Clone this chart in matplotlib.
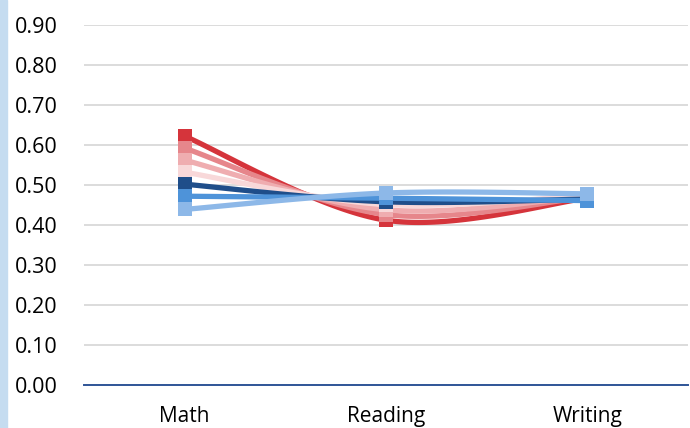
import numpy as np
import matplotlib.pyplot as plt
from matplotlib.patches import Rectangle

categories = ["Math", "Reading", "Writing"]
series_red = [0.622, 0.412, 0.467]
series_salmon = [0.592, 0.426, 0.470]
series_pink = [0.562, 0.438, 0.472]
series_lightpink = [0.532, 0.451, 0.474]
series_darkblue = [0.502, 0.458, 0.465]
series_midblue = [0.472, 0.467, 0.461]
series_lightblue = [0.439, 0.480, 0.478]
y_ticks = [0.0, 0.1, 0.2, 0.3, 0.4, 0.5, 0.6, 0.7, 0.8, 0.9]

series = [
    (series_red, "#D5343B"),
    (series_salmon, "#E6868B"),
    (series_pink, "#EFADB0"),
    (series_lightpink, "#F8D8D9"),
    (series_darkblue, "#1F4E8A"),
    (series_midblue, "#4E93D9"),
    (series_lightblue, "#8DB8E8"),
]


def smooth(xs, ys, n=60):
    # Catmull-Rom style bezier smoothing, like spreadsheet "smooth line"
    xs = np.asarray(xs, float)
    ys = np.asarray(ys, float)
    px = np.concatenate([[xs[0]], xs, [xs[-1]]])
    py = np.concatenate([[ys[0]], ys, [ys[-1]]])
    out_x, out_y = [], []
    t = np.linspace(0, 1, n)
    for i in range(1, len(px) - 2):
        p0 = np.array([px[i], py[i]])
        p3 = np.array([px[i + 1], py[i + 1]])
        c1 = p0 + (np.array([px[i + 1], py[i + 1]]) - np.array([px[i - 1], py[i - 1]])) / 6
        c2 = p3 - (np.array([px[i + 2], py[i + 2]]) - np.array([px[i], py[i]])) / 6
        b = ((1 - t) ** 3)[:, None] * p0 + (3 * (1 - t) ** 2 * t)[:, None] * c1 \
            + (3 * (1 - t) * t ** 2)[:, None] * c2 + (t ** 3)[:, None] * p3
        out_x.extend(b[:, 0])
        out_y.extend(b[:, 1])
    return out_x, out_y


plt.rcParams['font.family'] = ['Open Sans', 'DejaVu Sans']

fig = plt.figure(figsize=(6.9, 4.28), dpi=100)
ax = fig.add_axes([84 / 690, 43 / 428, 604 / 690, 360 / 428])

fig.patches.append(Rectangle((0, 0), 7 / 690, 1, transform=fig.transFigure,
                             color="#C5DCF0", zorder=0))

x = np.arange(len(categories))
for i, (vals, col) in enumerate(series):
    sx, sy = smooth(x, vals)
    ax.plot(sx, sy, color=col, lw=3.8, solid_capstyle="butt", zorder=3 + i, clip_on=False)
    ax.plot(x, vals, linestyle="none", marker="s", markersize=10.5, color=col,
            markeredgewidth=0, zorder=3 + i, clip_on=False)

ax.set_xlim(-0.5, 2.5)
ax.set_ylim(0, 0.9)
ax.set_yticks(y_ticks)
ax.set_yticklabels([f"{v:.2f}" for v in y_ticks])
ax.set_xticks(x)
ax.set_xticklabels(categories)
ax.grid(axis="y", color="#D9D9D9", lw=1.3)
ax.set_axisbelow(True)
for s in ["top", "right", "left"]:
    ax.spines[s].set_visible(False)
ax.spines["bottom"].set_color("#2F5597")
ax.spines["bottom"].set_linewidth(1.4)
ax.spines["bottom"].set_zorder(2)
ax.tick_params(axis="both", length=0, labelsize=15.5, colors="#000000")
ax.tick_params(axis="y", pad=19)
ax.tick_params(axis="x", pad=15, labelsize=15)

fig.savefig("out.png", dpi=100)
